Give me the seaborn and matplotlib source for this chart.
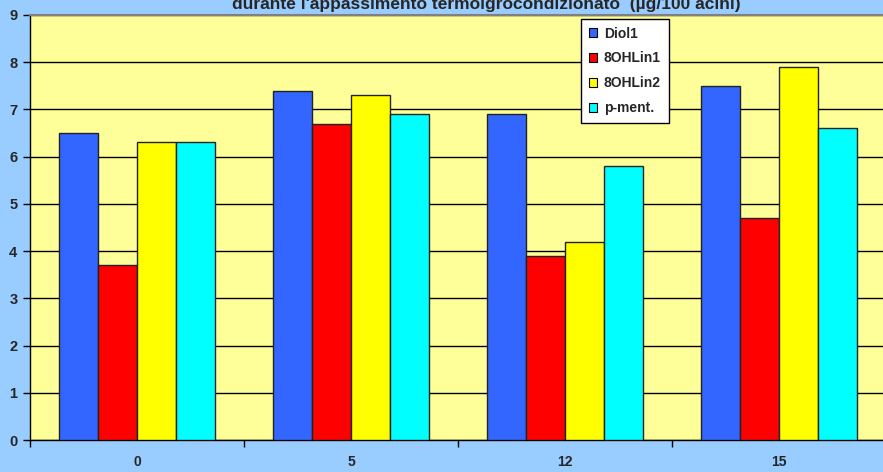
import matplotlib
matplotlib.use("Agg")
import matplotlib.pyplot as plt
import seaborn as sns
import pandas as pd
from matplotlib.patches import Patch

# Days of drying and compound concentrations (µg/100 acini)
days = ["0", "5", "12", "15"]
compounds = ["Diol1", "8OHLin1", "8OHLin2", "p-ment."]
diol1 = [6.5, 7.4, 6.9, 7.5]
oh_lin1 = [3.7, 6.7, 3.9, 4.7]
oh_lin2 = [6.3, 7.3, 4.2, 7.9]
p_ment = [6.3, 6.9, 5.8, 6.6]
colors = ["#3366FF", "#FF0000", "#FFFF00", "#00FFFF"]

series = [diol1, oh_lin1, oh_lin2, p_ment]
df = pd.DataFrame(
    [(d, c, v) for c, vals in zip(compounds, series) for d, v in zip(days, vals)],
    columns=["giorno", "composto", "valore"],
)

sns.set_style("white")
plt.rcParams["font.family"] = ["Liberation Sans", "DejaVu Sans"]
plt.rcParams["font.weight"] = "bold"

fig = plt.figure(figsize=(8.83, 4.72), dpi=100)
fig.patch.set_facecolor("#99CCFF")
ax = fig.add_axes([30 / 883, 32 / 472, 856 / 883, 425 / 472])
ax.set_facecolor("#FFFF99")

sns.barplot(
    data=df, x="giorno", y="valore", hue="composto", order=days,
    hue_order=compounds, palette=colors, width=0.73, gap=0,
    edgecolor="#222222", linewidth=1, saturation=1, ax=ax, legend=False,
    zorder=3,
)

ax.set_xlim(-0.5, 3.5)
ax.set_ylim(0, 9)
ax.set_yticks(range(0, 10))
ax.yaxis.grid(True, color="black", linewidth=1)
ax.set_axisbelow(True)
ax.set_xlabel("")
ax.set_ylabel("")

# category labels centred, tick marks on category boundaries
ax.set_xticks(range(len(days)))
ax.set_xticklabels(days, fontsize=10, fontweight="bold")
ax.tick_params(axis="x", which="major", length=0, pad=11)
ax.set_xticks([-0.5, 0.5, 1.5, 2.5, 3.5], minor=True)
ax.tick_params(axis="x", which="minor", length=5, width=1, color="black",
               direction="out", bottom=True)
ax.tick_params(axis="y", length=5, width=1, color="black", direction="out",
               left=True, labelsize=10.5, pad=4)
for lab in ax.get_yticklabels():
    lab.set_fontweight("bold")

for side in ["left", "bottom"]:
    ax.spines[side].set_color("black")
    ax.spines[side].set_linewidth(1)
ax.spines["top"].set_color("#808080")
ax.spines["top"].set_linewidth(1.5)
ax.spines["right"].set_visible(False)

handles = [Patch(facecolor=c, edgecolor="black", linewidth=0.8) for c in colors]
leg = fig.legend(
    handles, compounds, loc="upper left",
    bbox_to_anchor=(581 / 883, 1 - 19 / 472),
    frameon=True, fancybox=False, framealpha=1, edgecolor="black",
    prop={"weight": "bold", "size": 10},
    handlelength=0.6, handleheight=0.6, handletextpad=0.5,
    labelspacing=0.78, borderpad=0.55, borderaxespad=0,
)
leg.get_frame().set_linewidth(1)
for t in leg.get_texts():
    t.set_x(0)
leg._legend_box.align = "left"

fig.text(486 / 883, 1 - 9 / 472,
         "durante l'appassimento termoigrocondizionato  (µg/100 acini)",
         ha="center", va="baseline", fontsize=12.5, fontweight="bold")

fig.savefig("out.png", dpi=100, facecolor=fig.get_facecolor())
